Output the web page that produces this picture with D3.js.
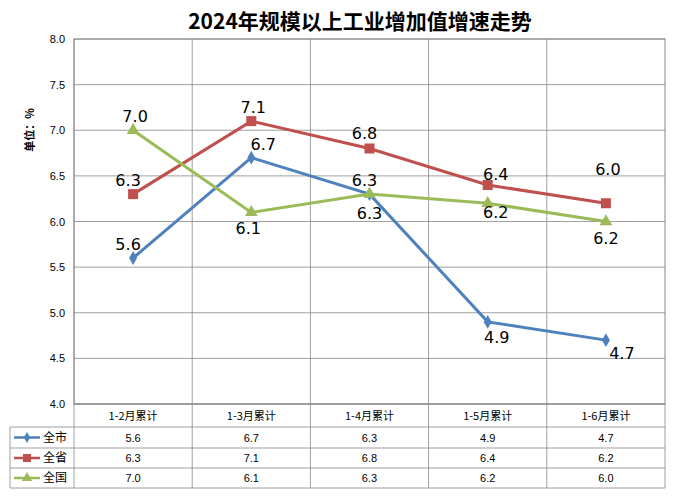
<!DOCTYPE html>
<html><head><meta charset="utf-8">
<script src="https://cdn.jsdelivr.net/npm/d3@7"></script>
<style>body{margin:0;background:#fff}svg{font-family:"Noto Sans CJK SC","DejaVu Sans",sans-serif}</style>
</head><body><svg id="c" width="676" height="496"></svg>
<script>
const categories=["1-2月累计","1-3月累计","1-4月累计","1-5月累计","1-6月累计"];
const seriesNames=["全市","全省","全国"];
const cityVals=[5.6,6.7,6.3,4.9,4.7];
const provVals=[6.3,7.1,6.8,6.4,6.2];
const natVals=[7.0,6.1,6.3,6.2,6.0];
const cityLabels=["5.6","6.7","6.3","4.9","4.7"];
const provLabels=["6.3","7.1","6.8","6.4","6.0"];
const natLabels=["7.0","6.1","6.3","6.2","6.2"];
const yTicks=[4.0,4.5,5.0,5.5,6.0,6.5,7.0,7.5,8.0];
const colors=["#4f81bd","#c0504d","#9bbb59"];
const series=[cityVals,provVals,natVals];
const labels=[cityLabels,provLabels,natLabels];
// label offsets [dx,dy] per series/point
const offs=[[[-5,-14],[12,-14],[0,-2+21],[9,15],[16,13]],
            [[-5,-14],[2,-14],[-5,-16],[8,-11],[2,-34+-0]],
            [[2,-14],[-3,16],[-5,-14],[8,9],[0,16]]];
const svg=d3.select("#c");
const L=74,R=665,T=39,B=404;
const x=d3.scaleBand().domain(categories).range([L,R]);
const y=d3.scaleLinear().domain([4,8]).range([B,T]);
svg.append("text").attr("x",360).attr("y",29).attr("text-anchor","middle").attr("font-size",21).attr("font-weight","bold").attr("font-family","'Noto Sans CJK SC',serif").text("2024年规模以上工业增加值增速走势");
svg.append("rect").attr("x",L).attr("y",T).attr("width",R-L).attr("height",B-T).attr("fill","none").attr("stroke","#888");
yTicks.forEach(t=>{
 svg.append("line").attr("x1",L).attr("x2",R).attr("y1",y(t)).attr("y2",y(t)).attr("stroke","#888").attr("stroke-width",0.8);
 svg.append("text").attr("x",L-9).attr("y",y(t)+4).attr("text-anchor","end").attr("font-size",11).attr("font-family","'Liberation Sans',sans-serif").text(t.toFixed(1));
});
categories.forEach(c=>svg.append("line").attr("x1",x(c)).attr("x2",x(c)).attr("y1",T).attr("y2",B).attr("stroke","#888").attr("stroke-width",0.8));
svg.append("text").attr("transform","translate(34,130) rotate(-90)").attr("text-anchor","middle").attr("font-size",11).attr("font-weight","bold").text("单位：%");
const cx=c=>x(c)+x.bandwidth()/2;
series.forEach((vals,i)=>{
 const pts=vals.map((v,j)=>[cx(categories[j]),y(v)]);
 svg.append("path").attr("d",d3.line()(pts)).attr("fill","none").attr("stroke",colors[i]).attr("stroke-width",3);
 pts.forEach((p,j)=>{
  if(i==0)svg.append("path").attr("d",d3.symbol(d3.symbolDiamond,55)()).attr("transform",`translate(${p})`).attr("fill",colors[i]);
  else if(i==1)svg.append("rect").attr("x",p[0]-5).attr("y",p[1]-5).attr("width",10).attr("height",10).attr("fill",colors[i]);
  else svg.append("path").attr("d",d3.symbol(d3.symbolTriangle,70)()).attr("transform",`translate(${p})`).attr("fill",colors[i]);
  svg.append("text").attr("x",p[0]+offs[i][j][0]).attr("y",p[1]+offs[i][j][1]+6).attr("text-anchor","middle").attr("font-size",16).attr("font-family","'DejaVu Sans',sans-serif").text(labels[i][j]);
 });
});
// table
const rowsY=[404,427,448,468,488];
const g=svg.append("g").attr("stroke","#888").attr("stroke-width",0.8);
rowsY.forEach((ry,k)=>g.append("line").attr("x1",k==0?L:10).attr("x2",R).attr("y1",ry).attr("y2",ry));
g.append("line").attr("x1",10).attr("x2",10).attr("y1",427).attr("y2",488);
categories.forEach(c=>g.append("line").attr("x1",x(c)).attr("x2",x(c)).attr("y1",404).attr("y2",488));
g.append("line").attr("x1",R).attr("x2",R).attr("y1",404).attr("y2",488);
categories.forEach(c=>svg.append("text").attr("x",cx(c)).attr("y",420).attr("text-anchor","middle").attr("font-size",11).text(c));
series.forEach((vals,i)=>{
 const ry=(rowsY[i+1]+rowsY[i+2])/2;
 svg.append("line").attr("x1",14).attr("x2",40).attr("y1",ry).attr("y2",ry).attr("stroke",colors[i]).attr("stroke-width",2.5);
 if(i==0)svg.append("path").attr("d",d3.symbol(d3.symbolDiamond,35)()).attr("transform",`translate(27,${ry})`).attr("fill",colors[i]);
 else if(i==1)svg.append("rect").attr("x",23).attr("y",ry-4).attr("width",8).attr("height",8).attr("fill",colors[i]);
 else svg.append("path").attr("d",d3.symbol(d3.symbolTriangle,45)()).attr("transform",`translate(27,${ry})`).attr("fill",colors[i]);
 svg.append("text").attr("x",43).attr("y",ry+4).attr("font-size",12).text(seriesNames[i]);
 vals.forEach((v,j)=>svg.append("text").attr("x",cx(categories[j])).attr("y",ry+4).attr("text-anchor","middle").attr("font-size",11).attr("font-family","'Liberation Sans',sans-serif").text(v.toFixed(1)));
});
</script></body></html>
